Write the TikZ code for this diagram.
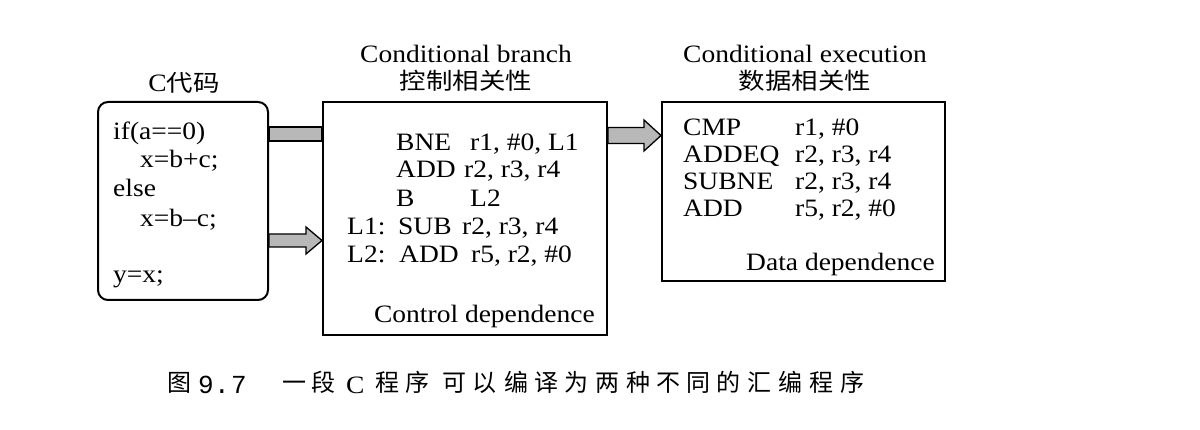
\documentclass[tikz,border=0pt]{standalone}
\usepackage{fontspec}
\setmainfont{Liberation Serif}[FakeStretch=1.1]
\newfontfamily\cjk{Noto Sans CJK SC}[FakeStretch=1.15]
\newfontfamily\capcjk{Noto Sans CJK SC}
\newfontfamily\capnum{Liberation Mono}
\usetikzlibrary{calc}
\tikzset{
  box/.style={draw=black, line width=2pt, inner sep=0pt},
  txt/.style={inner sep=0pt, font=\fontsize{25}{28}\selectfont},
  lft/.style={txt, anchor=base west},
  ctr/.style={txt, anchor=base},
  rgt/.style={txt, anchor=base east},
  cjkt/.style={inner sep=0pt, anchor=base, font=\fontsize{23}{28}\selectfont\cjk},
  arrowfill/.style={fill=black!28, draw=black, line width=1.3pt},
  capc/.style={inner sep=0pt, anchor=base west, font=\fontsize{24}{26}\selectfont\capcjk},
  capl/.style={inner sep=0pt, anchor=base west, font=\fontsize{25}{26}\selectfont},
  capn/.style={inner sep=0pt, anchor=base west, font=\fontsize{26}{26}\selectfont\capnum}
}
\begin{document}
\begin{tikzpicture}[x=1pt,y=-1pt]
\useasboundingbox (0,0) rectangle (1200,430);
\fill[white] (0,0) rectangle (1200,430);

% boxes
\node[box, rounded corners=10pt, minimum width=170pt, minimum height=198pt] (cbox) at (183,201) {};
\node[box, minimum width=284pt, minimum height=233pt] (mid) at (465,218.5) {};
\node[box, minimum width=283pt, minimum height=179pt] (rbox) at (803.5,191.5) {};

% connectors
\filldraw[arrowfill] let \p1=(cbox.east), \p2=(mid.west) in
  (\x1,-127pt) rectangle (\x2,-141pt);
\filldraw[arrowfill] let \p1=(cbox.east), \p2=(mid.west) in
  (\x1,-234pt) -- (\x2-16pt,-234pt) -- (\x2-16pt,-227pt) -- (\x2,-240.5pt)
  -- (\x2-16pt,-254pt) -- (\x2-16pt,-247pt) -- (\x1,-247pt) -- cycle;
\filldraw[arrowfill] let \p1=(mid.east), \p2=(rbox.west) in
  (\x1,-127.5pt) -- (\x2-17pt,-127.5pt) -- (\x2-17pt,-120pt) -- (\x2,-135.5pt)
  -- (\x2-17pt,-151pt) -- (\x2-17pt,-143.5pt) -- (\x1,-143.5pt) -- cycle;

% C code
\node[ctr] (clabel) at (184,92) {C{\cjk\fontsize{23}{28}\selectfont 代码}};
\node[lft] (c1) at (113,140) {if(a==0)};
\node[lft] (c2) at (140,168) {x=b+c;};
\node[lft] (c3) at (113,197) {else};
\node[lft] (c4) at (140,227) {x=b–c;};
\node[lft] (c5) at (113,283) {y=x;};

% conditional branch
\node[ctr] (t1) at (466,63) {Conditional branch};
\node[cjkt] (t1c) at (466,90) {控制相关性};
\node[lft] (m1a) at (396,151) {BNE};
\node[lft] (m1b) at (470,151) {r1, \#0, L1};
\node[lft] (m2a) at (396,178) {ADD};
\node[lft] (m2b) at (464,178) {r2, r3, r4};
\node[lft] (m3a) at (396,207) {B};
\node[lft] (m3b) at (470,207) {L2};
\node[lft] (m4l) at (347,235) {L1:};
\node[lft] (m4a) at (398,235) {SUB};
\node[lft] (m4b) at (462,235) {r2, r3, r4};
\node[lft] (m5l) at (347,263) {L2:};
\node[lft] (m5a) at (399,263) {ADD};
\node[lft] (m5b) at (471,263) {r5, r2, \#0};
\node[rgt] (mfoot) at (595,323) {Control dependence};

% conditional execution
\node[ctr] (t2) at (805,63) {Conditional execution};
\node[cjkt] (t2c) at (805,90) {数据相关性};
\node[lft] (r1a) at (683,136) {CMP};
\node[lft] (r1b) at (795,136) {r1, \#0};
\node[lft] (r2a) at (683,163) {ADDEQ};
\node[lft] (r2b) at (795,163) {r2, r3, r4};
\node[lft] (r3a) at (683,190) {SUBNE};
\node[lft] (r3b) at (795,190) {r2, r3, r4};
\node[lft] (r4a) at (683,217) {ADD};
\node[lft] (r4b) at (795,217) {r5, r2, \#0};
\node[rgt] (rfoot) at (935,271) {Data dependence};

% caption
\foreach \xx/\ch [count=\i] in {167/图,282/一,311/段,375/程,405/序,442/可,472/以,504/编,534/译,564/为,595/两,626/种,656/不,686/同,716/的,747/汇,778/编,809/程,840/序}
  \node[capc] (cap\i) at (\xx,391.5) {\ch};
\node[capn] (capn1) at (198,393) {9};
\node[capn] (capn2) at (214,393) {.};
\node[capn] (capn3) at (231,393) {7};
\node[capl] (capC) at (346,393) {C};
\end{tikzpicture}
\end{document}
